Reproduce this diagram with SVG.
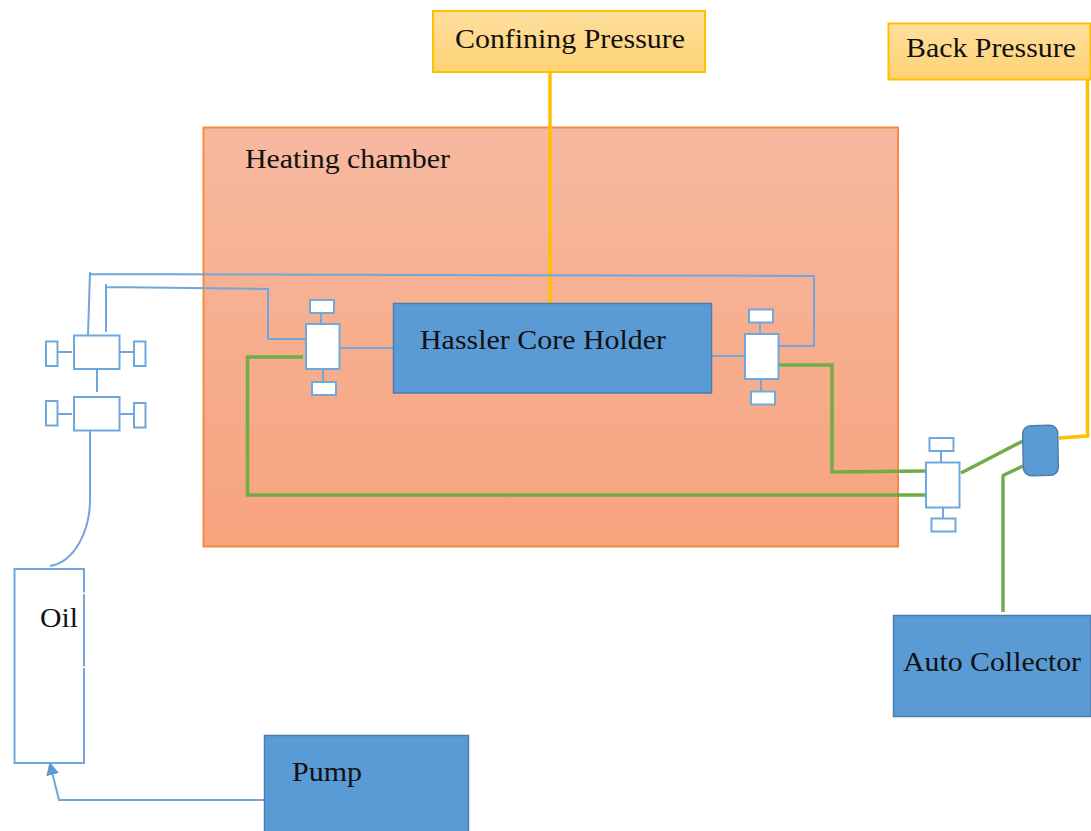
<svg xmlns="http://www.w3.org/2000/svg" width="1091" height="831" viewBox="0 0 1091 831">
<style>
text{font-family:"Liberation Serif","Times New Roman",serif;font-size:28px;fill:#111;lengthAdjust:spacingAndGlyphs}
.blue{fill:#5b9bd5;stroke:#4a7eae;stroke-width:1.5}
.yel{fill:url(#gy);stroke:#ffc000;stroke-width:2}
.v{fill:#fff;stroke:#6fa8dc;stroke-width:2}
.b{fill:none;stroke:#70a6d9;stroke-width:2}
.g{fill:none;stroke:#70ad47;stroke-width:3.500}
.o{fill:none;stroke:#ffc000;stroke-width:3.500}
</style>
<defs>
<linearGradient id="gh" x1="0" y1="0" x2="0" y2="1"><stop offset="0" stop-color="#f6b9a0"/><stop offset="1" stop-color="#f7a37d"/></linearGradient>
<linearGradient id="gy" x1="0" y1="0" x2="0" y2="1"><stop offset="0" stop-color="#fedf9f"/><stop offset="1" stop-color="#fed272"/></linearGradient>
<marker id="arr" markerWidth="14" markerHeight="14" refX="11" refY="6.500" orient="auto" markerUnits="userSpaceOnUse"><path d="M0 0L13 6.500L0 13Z" fill="#5b9bd5"/></marker>
</defs>
<g id="heating-chamber"><rect x="203.500" y="127.500" width="694.500" height="419" fill="url(#gh)" stroke="#f58a42" stroke-width="2"/><text x="245" y="168" textLength="205" lengthAdjust="spacingAndGlyphs">Heating chamber</text></g>
<g id="confining-pressure"><rect class="yel" x="433" y="11" width="272" height="61"/><text x="455" y="48" textLength="230" lengthAdjust="spacingAndGlyphs">Confining Pressure</text></g>
<g id="back-pressure"><rect class="yel" x="888.500" y="23.500" width="202" height="56"/><text x="906" y="57" textLength="170" lengthAdjust="spacingAndGlyphs">Back Pressure</text></g>
<g id="connectors">
<path class="o" d="M550 72V303"/>
<path class="o" d="M1059 438L1087.500 436V80"/>
<path class="b" d="M88 335L90 272V274L814 276V346H779"/>
<path class="b" d="M106 332V284V287L268 289V339H306"/>
<path class="b" d="M340 348H393M712 356H745"/>
<path class="b" d="M90 431V500C90 530 75 562 50 566"/>
<path class="b" marker-end="url(#arr)" d="M264 800H59L50 764"/>
<path class="g" d="M303 357H247.500V495H925"/>
<path class="g" d="M778 365H832V472L925 471"/>
<path class="g" d="M961 473L1023 441"/>
<path class="g" d="M1023 466L1002 476"/>
<path class="g" d="M1003 476V612"/>
</g>
<g id="valve-left-top"><path class="b" d="M58 352H72M120 352H134M97 369V392"/><rect class="v" x="74" y="335.500" width="45.500" height="33.500"/><rect class="v" x="46" y="341.500" width="11.500" height="24.500"/><rect class="v" x="134" y="341.500" width="11.500" height="24.500"/></g>
<g id="valve-left-bottom"><path class="b" d="M58 414H72M120 414H134"/><rect class="v" x="74" y="397" width="45.500" height="33.500"/><rect class="v" x="46" y="401" width="11.500" height="24.500"/><rect class="v" x="134" y="403" width="11.500" height="24.500"/></g>
<g id="valve-inlet"><path class="b" d="M321 313V327M323 369V382"/><rect class="v" x="306" y="324" width="33.500" height="45"/><rect class="v" x="310" y="300" width="24" height="13"/><rect class="v" x="312" y="382" width="24" height="13"/></g>
<g id="valve-outlet"><path class="b" d="M760 322V336M761 377V391"/><rect class="v" x="745" y="334" width="33.500" height="45"/><rect class="v" x="749" y="309.500" width="24" height="13"/><rect class="v" x="751" y="391.500" width="24" height="13"/></g>
<g id="valve-right"><path class="b" d="M941 451V465M943 507V518"/><rect class="v" x="926" y="462.500" width="33.500" height="45"/><rect class="v" x="929.500" y="438" width="24" height="13"/><rect class="v" x="931.500" y="518.500" width="24" height="13"/></g>
<g id="hassler"><rect class="blue" x="393.500" y="303.500" width="318" height="89.500"/><text x="420" y="349" textLength="246" lengthAdjust="spacingAndGlyphs">Hassler Core Holder</text></g>
<g id="regulator"><rect x="1023" y="425.500" width="35" height="50" rx="8" fill="#5b9bd5" stroke="#4a7eae" stroke-width="1.500" transform="rotate(-1 1040 450)"/></g>
<g id="auto-collector"><rect class="blue" x="893.500" y="615.500" width="197.500" height="101"/><text x="903" y="671" textLength="178" lengthAdjust="spacingAndGlyphs">Auto Collector</text></g>
<g id="oil"><rect class="v" x="14.500" y="569" width="69.500" height="194"/><path d="M84 592.500V594M84 666.500V668" stroke="#fff" stroke-width="3" fill="none"/><text x="40" y="627" textLength="38" lengthAdjust="spacingAndGlyphs">Oil</text></g>
<g id="pump"><rect class="blue" x="264.500" y="735.500" width="204" height="97"/><text x="292" y="781" textLength="70" lengthAdjust="spacingAndGlyphs">Pump</text></g>
</svg>
